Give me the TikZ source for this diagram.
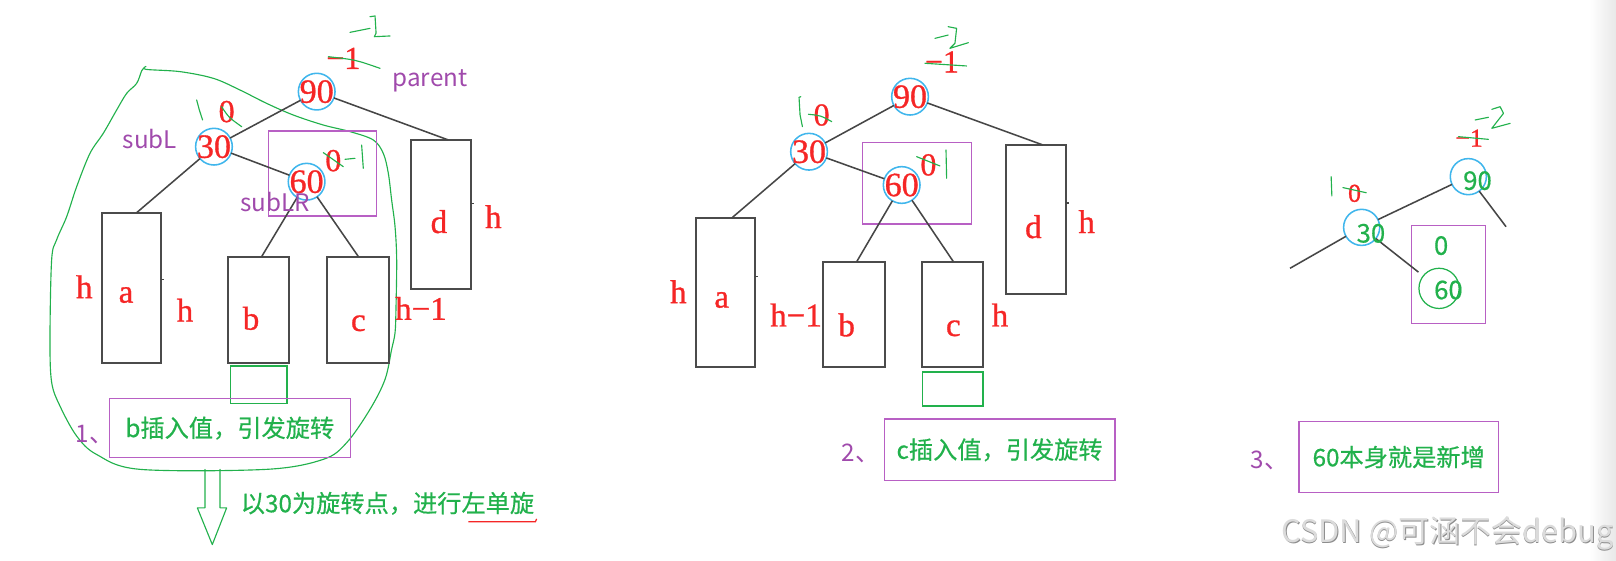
\documentclass[tikz,border=0pt]{standalone}
\usepackage{fontspec}
\setmainfont{Liberation Serif}
\newfontfamily\redfont[FakeBold=0.9]{Liberation Serif}
\newfontfamily\cjk{Noto Sans CJK SC}
\newfontfamily\cjkb[FakeBold=0.5]{Noto Sans CJK SC}
\usetikzlibrary{calc}
\definecolor{myred}{RGB}{245,38,38}
\definecolor{mygreen}{RGB}{34,177,76}
\definecolor{myblue}{RGB}{64,182,236}
\definecolor{mypbox}{RGB}{184,96,196}
\definecolor{mypurt}{RGB}{160,74,172}
\definecolor{edgegray}{RGB}{70,70,70}
\definecolor{boxgray}{RGB}{75,75,75}
\tikzset{
  edge/.style={draw=edgegray, line width=1.5pt},
  tbox/.style={draw=boxgray, line width=2pt, anchor=north west, inner sep=0pt, outer sep=0pt},
  pbox/.style={draw=mypbox, line width=1.5pt, anchor=north west, inner sep=0pt, outer sep=0pt},
  gbox/.style={draw=mygreen, line width=1.5pt, anchor=north west, inner sep=0pt, outer sep=0pt},
  bcirc/.style={circle, draw=myblue, line width=1.5pt, minimum size=35.6pt, inner sep=0pt, outer sep=0pt},
  redt/.style={text=myred, font=\redfont\fontsize{33}{33}\selectfont, inner sep=0pt},
  redn/.style={text=myred, font=\redfont\fontsize{31}{31}\selectfont, inner sep=0pt},
  redl/.style={text=myred, font=\redfont\fontsize{32}{32}\selectfont, inner sep=0pt},
  reds/.style={text=myred, font=\redfont\fontsize{25}{25}\selectfont, inner sep=0pt},
  purt/.style={text=mypurt, font=\cjk\fontsize{23.5}{24}\selectfont, inner sep=0pt},
  grt/.style={text=mygreen, font=\cjkb\fontsize{23.5}{24}\selectfont},
  grd/.style={text=mygreen, font=\cjkb\fontsize{25}{25}\selectfont, inner sep=0pt},
  gline/.style={draw=mygreen, line width=1.1pt, line cap=round, line join=round},
  wm/.style={font=\cjk\fontsize{30}{30}\selectfont, inner sep=0pt}
}
\begin{document}
\begin{tikzpicture}[x=1pt,y=-1pt]
\useasboundingbox (0,0) rectangle (1568,544);
\shade[left color=white, right color=black!9] (1542,0) rectangle (1568,544);

% ================= LEFT DIAGRAM =================
% green blob
\draw[gline] plot[smooth, tension=0.55] coordinates {
 (141.6,64.5) (141.6,67.3) (174.6,69.5) (207,76) (232.8,87.3) (258.7,100.3) (284.6,111.6)
 (313.7,121.3) (339.6,127.7) (362.2,135.8) (371.9,148.8) (376.8,168.2) (380,194)
 (383.3,219.9) (384.9,252.2) (384.2,300) (383.3,322.9) (380,339) (373.6,368.1)
 (359,397.2) (336.4,429.5) (313.7,445.7) (258.7,455.4) (135.8,455.4) (93.8,441)
 (74.4,423.1) (58.2,394) (50.1,370.9) (48.5,330) (50.1,252.2) (54.9,232.8)
 (64.7,210.2) (74.4,181.1) (87.3,148.8) (100.2,129.4) (113.2,106.7) (122.9,90.6)
 (132.6,80.9) (137.5,68.6) (139.5,66.5)};
% hollow arrow
\draw[gline] (198.9,455.4) -- (198.9,492.8) -- (191.5,492.8) -- (206,528.4)
  -- (219.9,492.8) -- (213.5,492.8) -- (213.5,455.4);

% boxes
\node[pbox, minimum width=104.8pt, minimum height=82.5pt] (Lp) at (260.7,127.1) {};
\node[tbox, minimum width=57.9pt, minimum height=145.6pt] (La) at (98.6,206.3) {};
\node[tbox, minimum width=59.3pt, minimum height=102.9pt] (Lb) at (221.2,249) {};
\node[tbox, minimum width=59.5pt, minimum height=102.9pt] (Lc) at (317.5,249) {};
\node[tbox, minimum width=58.2pt, minimum height=144.9pt] (Ld) at (398.8,135.8) {};
\node[gbox, minimum width=55pt, minimum height=36.3pt] (Lg) at (223.5,355.1) {};
\node[pbox, grt, minimum width=233.8pt, minimum height=57.2pt] (LT) at (106.1,386.8) {b插入值，引发旋转};

% circles
\node[bcirc] (L90) at (307.3,88.9) {};
\node[bcirc] (L30) at (207.6,142.3) {};
\node[bcirc] (L60) at (297.5,176.3) {};

% edges
\draw[edge] (L90) -- (L30);
\draw[edge] (L30) -- (L60);
\draw[edge] (L90) -- ($(Ld.north)+(7.1,0)$);
\draw[edge] (L30) -- ($(La.north)+(5.1,0)$);
\draw[edge] (L60) -- ($(Lb.north)+(3,0)$);
\draw[edge] (L60) -- ($(Lc.north)+(0.5,0)$);
\draw[edgegray, line width=1.5pt] (La.east) ++(0,-8) coordinate (Lat) -- ++(2.5,0);
\draw[edgegray, line width=1.5pt] (Ld.east) ++(0,-11) coordinate (Ldt) -- ++(2.5,0);

% texts
\node[redt] (t90) at (L90) {90};
\node[redt] (t30) at (L30) {30};
\node[redt] (t60) at (L60) {60};
\node[redn] (Lm1) at (333.1,56.6) {−1};
\node[redn] (Lz1) at (219.9,108.3) {0};
\node[redn] (Lz2) at (323.4,155.9) {0};
\node[redl] (Ldl) at (425.9,215.1) {d};
\node[redl] (Lh1) at (478.7,210.2) {h};
\node[redl] (Lh2) at (81.8,278.2) {h};
\node[redl] (Lal) at (122.3,286.3) {a};
\node[redl] (Lh3) at (179.5,300.9) {h};
\node[redl] (Lbl) at (243.6,308.9) {b};
\node[redl] (Lcl) at (347.7,313.7) {c};
\node[redl] (Lh4) at (408.5,299.2) {h−1};
\node[purt] (Lpar) at (417.2,78.3) {parent};
\node[purt] (Lsl) at (145.5,135.2) {subL};
\node[purt] (Lslr) at (266.8,195.7) {subLR};
\node[purt] (Ln1) at (92,422.1) {1、};
\node[grt, inner sep=0pt] (Lrot) at (376,488.4) {以30为旋转点，进行左单旋};
\draw[myred, line width=1.2pt] (454.4,506.2) -- (519.5,506.2) -- (520.7,503.5);

% green scribbles
\draw[gline] (339.6,31.4) .. controls (349,30) .. (359,27.5);
\draw[gline] (359,16.2) -- (363.9,15.5) -- (364.9,32.3) -- (363.2,35.6) -- (378.4,34.9);
\draw[gline] (318.6,55) .. controls (345,58) .. (368.7,66.3);
\draw[gline] (190.8,97) -- (193.5,107) -- (196.6,116.4);
\draw[gline] (215,103.5) .. controls (222,114) .. (234.5,122.9);
\draw[gline] (313.7,148.1) -- (333.1,161.7);
\draw[gline] (334.7,154.6) -- (344.4,153.6);
\draw[gline] (350.9,140.7) -- (352.5,163.3);

% ================= MIDDLE DIAGRAM =================
\node[pbox, minimum width=106.1pt, minimum height=79.5pt] (Mp) at (836.7,138.1) {};
\node[tbox, minimum width=57.6pt, minimum height=144.6pt] (Ma) at (675.4,211.8) {};
\node[tbox, minimum width=60.1pt, minimum height=102.5pt] (Mb) at (798.3,253.9) {};
\node[tbox, minimum width=59.9pt, minimum height=102.5pt] (Mc) at (894.3,253.9) {};
\node[tbox, minimum width=58.2pt, minimum height=144.6pt] (Md) at (976.1,140.7) {};
\node[gbox, minimum width=58.3pt, minimum height=33pt] (Mg) at (895.3,361) {};
\node[pbox, grt, minimum width=223.6pt, minimum height=59.8pt] (MT) at (858.1,406.6) {c插入值，引发旋转};

\node[bcirc] (M90) at (883,93.8) {};
\node[bcirc] (M30) at (785,147.2) {};
\node[bcirc] (M60) at (874.9,179.5) {};

\draw[edge] (M90) -- (M30);
\draw[edge] (M30) -- (M60);
\draw[edge] (M90) -- ($(Md.north)+(6.8,0)$);
\draw[edge] (M30) -- ($(Ma.north)+(5.5,0)$);
\draw[edge] (M60) -- ($(Mb.north)+(2.9,0)$);
\draw[edge] (M60) -- ($(Mc.north)+(0.8,0)$);
\draw[edgegray, line width=1.5pt] (Ma.east) ++(0,-16) coordinate (Mat) -- ++(2.5,0);
\draw[edgegray, line width=1.5pt] (Md.east) ++(0,-16) coordinate (Mdt) -- ++(2.5,0);

\node[redt] (m90) at (M90) {90};
\node[redt] (m30) at (M30) {30};
\node[redt] (m60) at (M60) {60};
\node[redn] (Mm1) at (914,60) {−1};
\node[redn] (Mz1) at (797.2,111.6) {0};
\node[redn] (Mz2) at (900.8,160) {0};
\node[redl] (Mdl) at (1002.7,220) {d};
\node[redl] (Mh1) at (1054.4,215) {h};
\node[redl] (Mh2) at (658.2,283) {h};
\node[redl] (Mal) at (700.3,291.1) {a};
\node[redl] (Mh3) at (772.4,305.6) {h−1};
\node[redl] (Mbl) at (821.5,315.3) {b};
\node[redl] (Mcl) at (925,318.6) {c};
\node[redl] (Mh4) at (970.3,305.6) {h};
\node[purt] (Mn2) at (835,439.8) {2、};

\draw[gline] (907.2,37.2) -- (920,34);
\draw[gline] (920,25.9) -- (928.2,27.5) -- (926.6,42) -- (921.7,46.9) -- (939.6,41.4);
\draw[gline] (897.4,61.4) -- (937.8,64);
\draw[gline] (777,93.8) -- (775.3,94.5) -- (776.3,111.6) -- (778.6,122.9);
\draw[gline] (784.4,110.9) .. controls (796,112) .. (807,118);
\draw[gline] (889.4,152) -- (912,161);
\draw[gline] (917.9,145.5) -- (918.5,173);

% ================= RIGHT DIAGRAM =================
\node[pbox, minimum width=71.8pt, minimum height=94.7pt] (Rp) at (1369.5,219) {};
\node[pbox, grt, minimum width=193.5pt, minimum height=68.9pt] (RT) at (1260.4,409.1) {60本身就是新增};

\node[bcirc, minimum size=35pt] (R90) at (1424.7,171.4) {};
\node[bcirc, minimum size=35pt] (R30) at (1321.2,220.6) {};
\node[circle, draw=mygreen, line width=1.2pt, minimum size=39pt, inner sep=0pt, outer sep=0pt] (R60) at (1396.3,279.8) {};
\coordinate (Rr) at (1461.3,220);
\coordinate (Rl) at (1251.7,260.3);

\draw[edge] (R90) -- (R30);
\draw[edge] (R90) -- (Rr);
\draw[edge] (R30) -- (Rl);
\draw[edge, shorten >=6pt] (R30) -- (R60);

\node[grd] (r90) at (1433.6,175.3) {90};
\node[grd] (r30) at (1330.2,226.4) {30};
\node[grd] (r0) at (1398.3,238.3) {0};
\node[grd] (r60) at (1405.4,281.4) {60};
\node[reds] (Rm1) at (1425.5,134) {−1};
\node[reds] (Rz) at (1314.3,187.6) {0};
\node[purt] (Rn3) at (1232,446.3) {3、};

\draw[gline] (1415.1,132.6) -- (1444.2,135.2);
\draw[gline] (1431.3,116.4) -- (1444.2,113.8);
\draw[gline] (1447.5,106.1) -- (1455.5,103.5) -- (1458.8,110) -- (1447.5,124.5) -- (1465.3,119.7);
\draw[gline] (1303,182) -- (1325.6,187);
\draw[gline] (1291.6,171.4) -- (1292.3,190.2);

% watermark
\node[wm, text=black!45] (WMs) at (1405.2,518.2) {CSDN @可涵不会debug};
\node[wm, text=black!14] (WM) at (1404.5,517.5) {CSDN @可涵不会debug};
\end{tikzpicture}
\end{document}
